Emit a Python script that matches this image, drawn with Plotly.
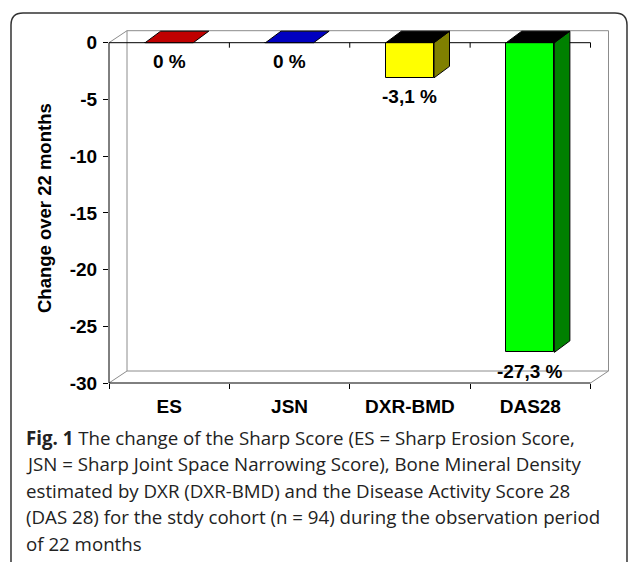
import plotly.graph_objects as go

# ---------------- data ----------------
categories = ["ES", "JSN", "DXR-BMD", "DAS28"]
values = [0.0, 0.0, -3.1, -27.3]
value_labels = ["0 %", "0 %", "-3,1 %", "-27,3 %"]
front_colors = ["#C00000", "#0000C0", "#FFFF00", "#00FF00"]
side_colors = ["#800000", "#000080", "#808000", "#008000"]
top_colors = ["#C00000", "#0000C0", "#000000", "#000000"]
y_ticks = [0, -5, -10, -15, -20, -25, -30]
y_title = "Change over 22 months"
caption_lines = [
    "<b>Fig. 1</b> The change of the Sharp Score (ES = Sharp Erosion Score,",
    "JSN = Sharp Joint Space Narrowing Score), Bone Mineral Density",
    "estimated by DXR (DXR-BMD) and the Disease Activity Score 28",
    "(DAS 28) for the stdy cohort (n = 94) during the observation period",
    "of 22 months",
]

# ---------------- geometry (px) ----------------
W, H = 628, 562
X_LEFT, X_RIGHT = 109.0, 590.5      # category edges -0.5 and 3.5
Y_ZERO, Y_BOT = 42.7, 383.0         # y = 0 and y = -30
YMIN = -30
PLOT_R, PLOT_T = 611.0, 28.0
N = len(categories)
SX = (X_RIGHT - X_LEFT) / N
SY = (Y_BOT - Y_ZERO) / (-YMIN)
x_range = [-0.5, -0.5 + (PLOT_R - X_LEFT) / SX]
y_range = [YMIN, (Y_ZERO - PLOT_T) / SY]


def paper_x(px):
    return (px - X_LEFT) / (PLOT_R - X_LEFT)


def paper_y(py):
    return (Y_BOT - py) / (Y_BOT - PLOT_T)


def px_x(xv):
    return paper_x(X_LEFT + (xv + 0.5) * SX)


def px_y(yv):
    return paper_y(Y_ZERO - yv * SY)


WDX, WDY = 18.0 / SX, 12.0 / SY     # wall depth in data units
BDX, BDY = 15.5 / SX, 11.5 / SY     # bar depth in data units
HALF = 0.2

fig = go.Figure()

# front faces
fig.add_trace(go.Bar(
    x=list(range(N)), y=values, width=2 * HALF,
    marker=dict(color=front_colors, line=dict(color="black", width=1)),
    hoverinfo="skip", showlegend=False,
))

# side and top faces
for i, v in enumerate(values):
    x0, x1 = i - HALF, i + HALF
    if v < 0:
        fig.add_trace(go.Scatter(
            x=[x1, x1 + BDX, x1 + BDX, x1, x1],
            y=[0, BDY, v + BDY, v, 0],
            fill="toself", fillcolor=side_colors[i], mode="lines",
            line=dict(color="black", width=1), hoverinfo="skip", showlegend=False,
        ))
    fig.add_trace(go.Scatter(
        x=[x0, x1, x1 + BDX, x0 + BDX, x0],
        y=[0, 0, BDY, BDY, 0],
        fill="toself", fillcolor=top_colors[i], mode="lines",
        line=dict(color="black", width=1), hoverinfo="skip", showlegend=False,
    ))

shapes = []
GREY = "#8c8c8c"


def seg(xa, ya, xb, yb, color, width=1, layer="below"):
    shapes.append(dict(type="line", xref="paper", yref="paper",
                       x0=px_x(xa), y0=px_y(ya), x1=px_x(xb), y1=px_y(yb),
                       line=dict(color=color, width=width), layer=layer))


# back wall
seg(-0.5 + WDX, WDY, N - 0.5 + WDX, WDY, GREY)
seg(-0.5 + WDX, YMIN + WDY, N - 0.5 + WDX, YMIN + WDY, GREY)
seg(-0.5 + WDX, WDY, -0.5 + WDX, YMIN + WDY, GREY)
seg(N - 0.5 + WDX, WDY, N - 0.5 + WDX, YMIN + WDY, GREY)
# side wall / floor edges
seg(-0.5, 0, -0.5 + WDX, WDY, GREY)
seg(-0.5, YMIN, -0.5 + WDX, YMIN + WDY, GREY)
seg(N - 0.5, YMIN, N - 0.5 + WDX, YMIN + WDY, GREY)
# axes
seg(-0.5, 0, N - 0.5, 0, "black")
seg(-0.5, YMIN, N - 0.5, YMIN, "black")
seg(-0.5, 0, -0.5, YMIN, "black")
for k in range(1, N + 1):
    xb = k - 0.5
    seg(xb, 0, xb, -5.0 / SY, "black")

# outer rounded frame
r = 12
fx0, fy0, fx1, fy1 = 11, 13, 627, 600


def P(px, py):
    return f"{paper_x(px):.5f},{paper_y(py):.5f}"


path = (f"M {P(fx0, fy1)} L {P(fx0, fy0 + r)} Q {P(fx0, fy0)} {P(fx0 + r, fy0)} "
        f"L {P(fx1 - r, fy0)} Q {P(fx1, fy0)} {P(fx1, fy0 + r)} L {P(fx1, fy1)}")
shapes.append(dict(type="path", xref="paper", yref="paper", path=path,
                   line=dict(color="#333333", width=1.5)))

annotations = []
LBL_FONT = dict(family="Liberation Sans, Arial, sans-serif", size=19, color="black", weight="bold")
for i, (v, t) in enumerate(zip(values, value_labels)):
    annotations.append(dict(x=i, y=v, xref="x", yref="y", text=t, showarrow=False,
                            xanchor="center", yanchor="middle", yshift=-19, font=LBL_FONT))

annotations.append(dict(x=paper_x(44), y=paper_y(208), xref="paper", yref="paper",
                        text=y_title, textangle=-90, showarrow=False,
                        xanchor="center", yanchor="middle",
                        font=dict(family="Liberation Sans, Arial, sans-serif", size=18.5,
                                  color="black", weight="bold")))

cap_y = [437, 463.5, 490, 516.5, 543]
for line, cy in zip(caption_lines, cap_y):
    annotations.append(dict(x=paper_x(24), y=paper_y(cy), xref="paper", yref="paper",
                            text=line, showarrow=False, xanchor="left", yanchor="middle",
                            font=dict(family="Open Sans, sans-serif", size=18.7, color="#222222")))

fig.update_layout(
    width=W, height=H,
    margin=dict(l=X_LEFT, r=W - PLOT_R, t=PLOT_T, b=H - Y_BOT, pad=0),
    paper_bgcolor="white", plot_bgcolor="white",
    shapes=shapes, annotations=annotations,
    bargap=0,
    xaxis=dict(range=x_range, tickmode="array", tickvals=list(range(N)), ticktext=categories,
               ticks="", showgrid=False, zeroline=False, showline=False, automargin=False,
               tickfont=LBL_FONT, ticklabelstandoff=10,
               minor=dict(tickmode="array", tickvals=[k - 0.5 for k in range(N + 1)],
                          ticks="outside", ticklen=5, tickcolor="black", tickwidth=1,
                          showgrid=False)),
    yaxis=dict(range=y_range, tickmode="array", tickvals=y_ticks,
               ticktext=[str(t) for t in y_ticks],
               ticks="outside", ticklen=5, tickcolor="black", tickwidth=1,
               showgrid=False, zeroline=False, showline=False, automargin=False,
               tickfont=LBL_FONT, ticklabelstandoff=2),
)

fig.write_html("out.html", config={"displayModeBar": False},
               post_script="document.body.style.margin='0';document.body.style.overflow='hidden';")
